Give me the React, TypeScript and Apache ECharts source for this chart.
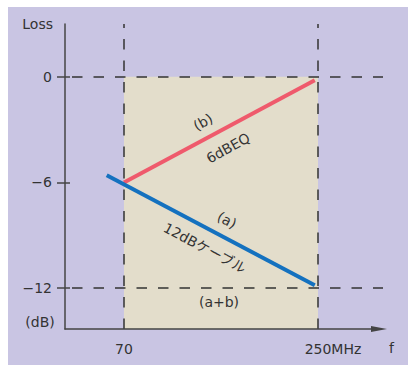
import React, { useEffect, useRef } from "react";
import * as echarts from "echarts";

// ---- data ----
const xTickValues = [70, 250];
const xTickLabels = ["70", "250MHz"];
const yTickValues = [0, -6, -12];
const yTickLabels = ["0", "−6", "−12"];
const dashedLossLevels = [0, -12];
const dashedFreqs = [70, 250];
const passBand = [70, 250];
const passBandTop = 0;
// (b) 6dBEQ
const eqCurve = [
  [70, -6],
  [247, -0.2],
];
// (a) 12dB cable
const cableCurve = [
  [54, -5.6],
  [247, -11.85],
];

const FONT = "'DejaVu Sans', 'Noto Sans CJK JP', sans-serif";
const TEXT = "#333";
const AXIS = "#444";

export default function App() {
  const ref = useRef<HTMLDivElement>(null);
  useEffect(() => {
    const chart = echarts.init(ref.current!, null, { renderer: "svg" });
    const X_MIN = 15.3;
    const X_MAX = 306.6;
    const Y_MIN = -14.33;
    const Y_MAX = 3;
    const dash = { color: "#333", width: 1.5, type: [10.5, 11] };
    const txt = (text: string, x: number, y: number, rotation = 0) => ({
      type: "text",
      x,
      y,
      rotation,
      z: 20,
      silent: true,
      style: {
        text,
        fill: TEXT,
        fontSize: 14,
        fontFamily: FONT,
        align: "center",
        verticalAlign: "middle",
        textAlign: "center",
        textVerticalAlign: "middle",
      },
    });
    chart.setOption({
      animation: false,
      textStyle: { fontFamily: FONT, color: TEXT, fontSize: 14 },
      grid: {
        left: 65,
        top: 24,
        right: 29,
        bottom: 36,
        containLabel: false,
        outerBoundsMode: "none",
      },
      xAxis: {
        type: "value",
        min: X_MIN,
        max: X_MAX,
        z: 10,
        axisLine: {
          onZero: false,
          lineStyle: { color: AXIS, width: 1.5 },
          symbol: ["none", "triangle"],
          symbolSize: [6, 16],
        },
        axisTick: { show: false },
        splitLine: { show: false },
        axisLabel: {
          customValues: xTickValues,
          margin: 13,
          fontSize: 14,
          color: TEXT,
          fontFamily: FONT,
          formatter: (v: number) => {
            const i = xTickValues.indexOf(v);
            const s = i >= 0 ? xTickLabels[i] : "";
            return i === xTickValues.length - 1 ? `{p|${s}}` : s;
          },
          rich: {
            p: {
              padding: [0, 0, 0, 30],
              fontSize: 14,
              color: TEXT,
              fontFamily: FONT,
            },
          },
        },
        name: "f",
        nameLocation: "end",
        nameGap: 10,
        nameTextStyle: {
          align: "left",
          verticalAlign: "top",
          padding: [12, 0, 0, 0],
          fontSize: 14,
          color: TEXT,
          fontFamily: FONT,
        },
      },
      yAxis: [
        {
          type: "value",
          min: Y_MIN,
          max: Y_MAX,
          position: "left",
          z: 10,
          axisLine: {
            show: true,
            onZero: false,
            lineStyle: { color: AXIS, width: 1.5 },
          },
          axisTick: {
            show: true,
            inside: false,
            length: 8,
            customValues: yTickValues,
            lineStyle: { color: AXIS, width: 1.5 },
          },
          splitLine: { show: false },
          axisLabel: {
            customValues: yTickValues,
            margin: 13,
            fontSize: 14,
            color: TEXT,
            fontFamily: FONT,
            formatter: (v: number) => {
              const i = yTickValues.indexOf(v);
              return i >= 0 ? yTickLabels[i] : "";
            },
          },
          name: "Loss",
          nameLocation: "end",
          nameGap: 0,
          nameTextStyle: {
            align: "right",
            verticalAlign: "middle",
            padding: [10, 12, 0, 0],
            fontSize: 14,
            color: TEXT,
            fontFamily: FONT,
          },
        },
        {
          type: "value",
          min: Y_MIN,
          max: Y_MAX,
          position: "left",
          z: 10,
          axisLine: { show: false, onZero: false },
          axisTick: {
            show: true,
            inside: true,
            length: 5,
            customValues: yTickValues,
            lineStyle: { color: AXIS, width: 1.5 },
          },
          axisLabel: { show: false },
          splitLine: { show: false },
        },
      ],
      graphic: [
        txt("(dB)", 40, 322),
        txt("(b)", 203, 122, 0.5),
        txt("6dBEQ", 228, 148, 0.5),
        txt("(a)", 227, 220, -0.49),
        txt("12dBケーブル", 205, 248, -0.49),
        txt("(a+b)", 219, 302),
      ],
      series: [
        {
          type: "line",
          data: eqCurve,
          symbol: "none",
          showSymbol: false,
          clip: false,
          z: 3,
          lineStyle: { color: "#ef5a6c", width: 4 },
          markArea: {
            silent: true,
            itemStyle: { color: "#e3ddcb" },
            data: [
              [
                { xAxis: passBand[0], yAxis: passBandTop },
                { xAxis: passBand[1], yAxis: Y_MIN },
              ],
            ],
          },
          markLine: {
            silent: true,
            symbol: ["none", "none"],
            label: { show: false },
            lineStyle: dash,
            data: [
              ...dashedLossLevels.map((v) => [
                { x: 72, yAxis: v },
                { x: 383, yAxis: v },
              ]),
              ...dashedFreqs.map((v) => ({ xAxis: v })),
            ],
          },
        },
        {
          type: "line",
          data: cableCurve,
          symbol: "none",
          showSymbol: false,
          clip: false,
          z: 4,
          lineStyle: { color: "#1471bf", width: 4 },
        },
      ],
    });
    return () => chart.dispose();
  }, []);

  return (
    <div
      style={{
        position: "fixed",
        left: 0,
        top: 0,
        width: 408,
        height: 365,
        background: "#fff",
      }}
    >
      <div
        style={{
          position: "absolute",
          left: 8,
          top: 7,
          right: 0,
          bottom: 0,
          background: "#c9c5e3",
        }}
      />
      <div
        ref={ref}
        style={{ position: "absolute", left: 0, top: 0, width: 408, height: 365 }}
      />
    </div>
  );
}
